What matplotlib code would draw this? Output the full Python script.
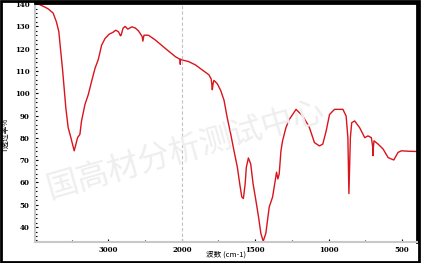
import numpy as np
import matplotlib
matplotlib.use('Agg')
from matplotlib import pyplot as plt
from matplotlib.patches import Rectangle
from matplotlib.ticker import FixedLocator, MultipleLocator

# spectrum (wavenumber cm-1, transmittance)
wavenumber = [4000, 3950, 3900, 3867, 3822, 3753, 3708, 3675, 3653, 3626, 3603, 3580,
              3548, 3511, 3489, 3466, 3442, 3420, 3388, 3366, 3319, 3274, 3229, 3182,
              3137, 3092, 3045, 2990, 2940, 2900, 2863, 2835, 2826, 2800, 2771, 2735,
              2681, 2634, 2590, 2566, 2540, 2530, 2515, 2497, 2452, 2360, 2223, 2086,
              2032, 2022, 2020, 2018, 2000, 1952, 1906, 1861, 1815, 1800, 1795, 1792,
              1786, 1781, 1758, 1735, 1712, 1690, 1666, 1644, 1621, 1605, 1591, 1580,
              1568, 1560, 1546, 1530, 1514, 1495, 1477, 1461, 1445, 1427, 1404, 1381,
              1363, 1354, 1345, 1336, 1324, 1313, 1290, 1267, 1221, 1176, 1142, 1130,
              1096, 1062, 1039, 1016, 993, 959, 902, 880, 868, 861, 855, 851,
              842, 822, 788, 753, 731, 708, 699, 697, 694, 690, 662, 628,
              594, 571, 555, 526, 503, 450, 400]
transmittance = [140.4, 140.0, 139.2, 138.7, 137.9, 136.0, 132.0, 127.6, 120.1, 111.2, 102.4, 93.5,
                 84.6, 80.1, 77.2, 74.2, 77.2, 80.1, 81.6, 87.6, 95.0, 99.4, 105.3, 111.2,
                 115.2, 121.6, 124.6, 126.5, 127.3, 128.3, 127.6, 125.8, 126.1, 129.2, 130.0, 128.8,
                 129.8, 129.3, 128.0, 126.8, 125.5, 123.4, 126.0, 126.1, 126.0, 123.9, 120.1, 116.4,
                 115.4, 115.0, 113.0, 115.3, 115.0, 114.2, 112.7, 110.5, 108.3, 106.5, 104.0, 101.6,
                 104.5, 105.8, 104.3, 101.3, 96.9, 89.0, 81.6, 74.2, 66.8, 59.4, 53.5, 52.8,
                 59.4, 66.8, 71.0, 68.3, 59.4, 52.0, 44.6, 37.2, 33.6, 37.2, 49.0, 53.5,
                 60.9, 64.6, 61.6, 63.8, 74.2, 78.7, 84.6, 88.3, 92.8, 89.8, 86.1, 84.6,
                 77.9, 76.4, 77.2, 83.1, 90.5, 92.8, 92.8, 89.8, 80.1, 55.0, 70.0, 80.1,
                 86.8, 87.6, 84.6, 80.1, 80.9, 80.1, 76.0, 72.0, 76.0, 78.7, 77.2, 75.0,
                 71.2, 70.5, 70.1, 73.5, 74.2, 74.0, 73.9]

x_ticks = [3000, 2000, 1500, 1000, 500]
y_ticks = [40, 50, 60, 70, 80, 90, 100, 110, 120, 130, 140]
watermark = '国高材分析测试中心'

plt.rcParams['font.family'] = ['DejaVu Serif', 'Noto Sans CJK SC']

# above 2000 cm-1 the axis is compressed by half
def forward(w):
    w = np.asarray(w, dtype=float)
    return np.where(w > 2000, 2000 + (w - 2000) / 2, w)

def inverse(u):
    u = np.asarray(u, dtype=float)
    return np.where(u > 2000, 2000 + (u - 2000) * 2, u)

fig = plt.figure(figsize=(4.22, 2.63), dpi=100)
ax = fig.add_axes([35 / 422, 21 / 263, 382 / 422, 239 / 263])

ax.set_xscale('function', functions=(forward, inverse))
ax.plot(wavenumber, transmittance, color='#d8141c', linewidth=1.0)
ax.set_xlim(4000, 397)
ax.set_ylim(33.3, 140.5)

ax.axvline(2000, color='#c8bcc8', linestyle=(0, (3, 2)), linewidth=0.8)

# watermark
fig.text(0.44, 0.43, watermark, fontsize=23, color='#eeeeee', rotation=16,
         ha='center', va='center', family='Noto Sans CJK SC', zorder=0)
ax.set_facecolor('none')

ax.xaxis.set_major_locator(FixedLocator(x_ticks))
ax.xaxis.set_minor_locator(FixedLocator([3500, 2500, 1750, 1250, 750]))
ax.yaxis.set_major_locator(FixedLocator(y_ticks))
ax.yaxis.set_minor_locator(MultipleLocator(2))
ax.tick_params(axis='both', which='major', labelsize=5, length=2, width=0.8,
               direction='in', color='black', pad=3)
ax.tick_params(axis='y', which='major', pad=4)
ax.tick_params(axis='both', which='minor', length=1.5, width=0.8, direction='in', color='black')
ax.tick_params(axis='x', which='both', top=False)
ax.tick_params(axis='y', which='both', right=False)
for lab in ax.get_xticklabels() + ax.get_yticklabels():
    lab.set_fontweight('bold')

for side in ['left', 'bottom']:
    ax.spines[side].set_color('#c8c8c8')
    ax.spines[side].set_linewidth(1.5)
for side in ['top', 'right']:
    ax.spines[side].set_color('black')
    ax.spines[side].set_linewidth(2)

ax.set_xlabel('波数 (cm-1)', fontsize=5.5, family='Noto Sans CJK SC', va='center')
ax.set_ylabel('T透过率%', fontsize=5.5, family='Noto Sans CJK SC', labelpad=2)
ax.yaxis.set_label_coords(-0.065, 0.45)
ax.xaxis.set_label_coords(0.5, -0.054)

# outer frame of the picture
fig.patches.append(Rectangle((0.002, 0.004), 0.99, 0.992, transform=fig.transFigure,
                             fill=False, edgecolor='black', linewidth=2))

fig.savefig('out.png', dpi=100)
